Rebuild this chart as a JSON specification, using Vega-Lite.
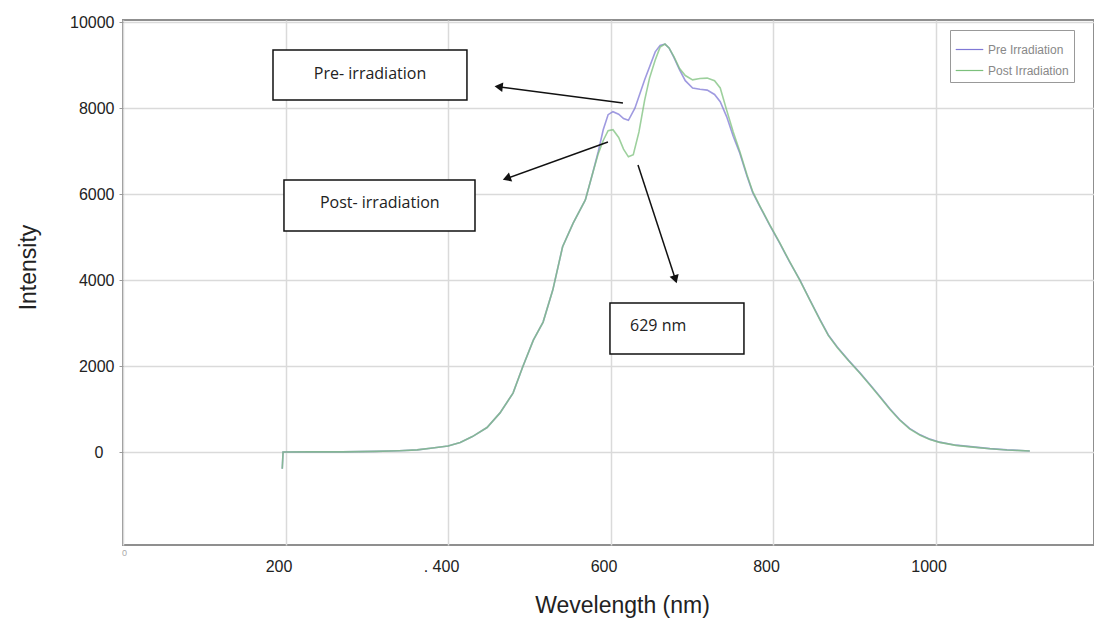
{
  "$schema": "https://vega.github.io/schema/vega-lite/v6.json",
  "autosize": {"type": "none"},
  "width": 971,
  "height": 525,
  "padding": {"left": 123, "top": 20, "right": 0, "bottom": 74},
  "background": "white",
  "config": {
    "view": {"stroke": "#8f8f8f", "strokeWidth": 2},
    "font": "Liberation Sans"
  },
  "datasets": {
    "spectrum": [
      {"wavelength": 196, "intensity": -380, "series": "Pre Irradiation"},
      {"wavelength": 197, "intensity": 10, "series": "Pre Irradiation"},
      {"wavelength": 230, "intensity": 15, "series": "Pre Irradiation"},
      {"wavelength": 270, "intensity": 15, "series": "Pre Irradiation"},
      {"wavelength": 310, "intensity": 25, "series": "Pre Irradiation"},
      {"wavelength": 340, "intensity": 40, "series": "Pre Irradiation"},
      {"wavelength": 362, "intensity": 60, "series": "Pre Irradiation"},
      {"wavelength": 381, "intensity": 105, "series": "Pre Irradiation"},
      {"wavelength": 400, "intensity": 150, "series": "Pre Irradiation"},
      {"wavelength": 415, "intensity": 230, "series": "Pre Irradiation"},
      {"wavelength": 430, "intensity": 370, "series": "Pre Irradiation"},
      {"wavelength": 448, "intensity": 580, "series": "Pre Irradiation"},
      {"wavelength": 464, "intensity": 920, "series": "Pre Irradiation"},
      {"wavelength": 480, "intensity": 1380, "series": "Pre Irradiation"},
      {"wavelength": 492, "intensity": 1990, "series": "Pre Irradiation"},
      {"wavelength": 505, "intensity": 2610, "series": "Pre Irradiation"},
      {"wavelength": 517, "intensity": 3030, "series": "Pre Irradiation"},
      {"wavelength": 529, "intensity": 3780, "series": "Pre Irradiation"},
      {"wavelength": 541, "intensity": 4780, "series": "Pre Irradiation"},
      {"wavelength": 554, "intensity": 5330, "series": "Pre Irradiation"},
      {"wavelength": 569, "intensity": 5870, "series": "Pre Irradiation"},
      {"wavelength": 578, "intensity": 6490, "series": "Pre Irradiation"},
      {"wavelength": 585, "intensity": 7000, "series": "Pre Irradiation"},
      {"wavelength": 591, "intensity": 7500, "series": "Pre Irradiation"},
      {"wavelength": 597, "intensity": 7850, "series": "Pre Irradiation"},
      {"wavelength": 603, "intensity": 7920, "series": "Pre Irradiation"},
      {"wavelength": 610, "intensity": 7860, "series": "Pre Irradiation"},
      {"wavelength": 616, "intensity": 7760, "series": "Pre Irradiation"},
      {"wavelength": 622, "intensity": 7720, "series": "Pre Irradiation"},
      {"wavelength": 630, "intensity": 8000, "series": "Pre Irradiation"},
      {"wavelength": 642, "intensity": 8660, "series": "Pre Irradiation"},
      {"wavelength": 655, "intensity": 9310, "series": "Pre Irradiation"},
      {"wavelength": 661, "intensity": 9460, "series": "Pre Irradiation"},
      {"wavelength": 667, "intensity": 9490, "series": "Pre Irradiation"},
      {"wavelength": 672, "intensity": 9400, "series": "Pre Irradiation"},
      {"wavelength": 678, "intensity": 9180, "series": "Pre Irradiation"},
      {"wavelength": 685, "intensity": 8890, "series": "Pre Irradiation"},
      {"wavelength": 692, "intensity": 8640, "series": "Pre Irradiation"},
      {"wavelength": 701, "intensity": 8470, "series": "Pre Irradiation"},
      {"wavelength": 710, "intensity": 8440, "series": "Pre Irradiation"},
      {"wavelength": 719, "intensity": 8420, "series": "Pre Irradiation"},
      {"wavelength": 728, "intensity": 8320, "series": "Pre Irradiation"},
      {"wavelength": 735, "intensity": 8150, "series": "Pre Irradiation"},
      {"wavelength": 743, "intensity": 7800, "series": "Pre Irradiation"},
      {"wavelength": 751, "intensity": 7350, "series": "Pre Irradiation"},
      {"wavelength": 759, "intensity": 6960, "series": "Pre Irradiation"},
      {"wavelength": 768, "intensity": 6420, "series": "Pre Irradiation"},
      {"wavelength": 775, "intensity": 6040, "series": "Pre Irradiation"},
      {"wavelength": 784, "intensity": 5710, "series": "Pre Irradiation"},
      {"wavelength": 796, "intensity": 5280, "series": "Pre Irradiation"},
      {"wavelength": 808, "intensity": 4870, "series": "Pre Irradiation"},
      {"wavelength": 820, "intensity": 4440, "series": "Pre Irradiation"},
      {"wavelength": 833, "intensity": 4010, "series": "Pre Irradiation"},
      {"wavelength": 845, "intensity": 3560, "series": "Pre Irradiation"},
      {"wavelength": 858, "intensity": 3080, "series": "Pre Irradiation"},
      {"wavelength": 868, "intensity": 2730, "series": "Pre Irradiation"},
      {"wavelength": 879, "intensity": 2450, "series": "Pre Irradiation"},
      {"wavelength": 893, "intensity": 2140, "series": "Pre Irradiation"},
      {"wavelength": 907, "intensity": 1850, "series": "Pre Irradiation"},
      {"wavelength": 920, "intensity": 1560, "series": "Pre Irradiation"},
      {"wavelength": 932, "intensity": 1290, "series": "Pre Irradiation"},
      {"wavelength": 944, "intensity": 1010, "series": "Pre Irradiation"},
      {"wavelength": 956, "intensity": 760, "series": "Pre Irradiation"},
      {"wavelength": 968, "intensity": 560, "series": "Pre Irradiation"},
      {"wavelength": 981, "intensity": 410, "series": "Pre Irradiation"},
      {"wavelength": 993, "intensity": 310, "series": "Pre Irradiation"},
      {"wavelength": 1005, "intensity": 240, "series": "Pre Irradiation"},
      {"wavelength": 1025, "intensity": 170, "series": "Pre Irradiation"},
      {"wavelength": 1046, "intensity": 130, "series": "Pre Irradiation"},
      {"wavelength": 1067, "intensity": 90, "series": "Pre Irradiation"},
      {"wavelength": 1088, "intensity": 60, "series": "Pre Irradiation"},
      {"wavelength": 1116, "intensity": 35, "series": "Pre Irradiation"},

      {"wavelength": 196, "intensity": -380, "series": "Post Irradiation"},
      {"wavelength": 197, "intensity": 10, "series": "Post Irradiation"},
      {"wavelength": 230, "intensity": 15, "series": "Post Irradiation"},
      {"wavelength": 270, "intensity": 15, "series": "Post Irradiation"},
      {"wavelength": 310, "intensity": 25, "series": "Post Irradiation"},
      {"wavelength": 340, "intensity": 40, "series": "Post Irradiation"},
      {"wavelength": 362, "intensity": 60, "series": "Post Irradiation"},
      {"wavelength": 381, "intensity": 105, "series": "Post Irradiation"},
      {"wavelength": 400, "intensity": 150, "series": "Post Irradiation"},
      {"wavelength": 415, "intensity": 230, "series": "Post Irradiation"},
      {"wavelength": 430, "intensity": 370, "series": "Post Irradiation"},
      {"wavelength": 448, "intensity": 580, "series": "Post Irradiation"},
      {"wavelength": 464, "intensity": 920, "series": "Post Irradiation"},
      {"wavelength": 480, "intensity": 1380, "series": "Post Irradiation"},
      {"wavelength": 492, "intensity": 1990, "series": "Post Irradiation"},
      {"wavelength": 505, "intensity": 2610, "series": "Post Irradiation"},
      {"wavelength": 517, "intensity": 3030, "series": "Post Irradiation"},
      {"wavelength": 529, "intensity": 3780, "series": "Post Irradiation"},
      {"wavelength": 541, "intensity": 4780, "series": "Post Irradiation"},
      {"wavelength": 554, "intensity": 5330, "series": "Post Irradiation"},
      {"wavelength": 569, "intensity": 5870, "series": "Post Irradiation"},
      {"wavelength": 578, "intensity": 6490, "series": "Post Irradiation"},
      {"wavelength": 585, "intensity": 6950, "series": "Post Irradiation"},
      {"wavelength": 591, "intensity": 7250, "series": "Post Irradiation"},
      {"wavelength": 597, "intensity": 7480, "series": "Post Irradiation"},
      {"wavelength": 603, "intensity": 7500, "series": "Post Irradiation"},
      {"wavelength": 610, "intensity": 7320, "series": "Post Irradiation"},
      {"wavelength": 616, "intensity": 7050, "series": "Post Irradiation"},
      {"wavelength": 622, "intensity": 6870, "series": "Post Irradiation"},
      {"wavelength": 628, "intensity": 6920, "series": "Post Irradiation"},
      {"wavelength": 635, "intensity": 7450, "series": "Post Irradiation"},
      {"wavelength": 642, "intensity": 8190, "series": "Post Irradiation"},
      {"wavelength": 648, "intensity": 8700, "series": "Post Irradiation"},
      {"wavelength": 655, "intensity": 9120, "series": "Post Irradiation"},
      {"wavelength": 661, "intensity": 9420, "series": "Post Irradiation"},
      {"wavelength": 667, "intensity": 9490, "series": "Post Irradiation"},
      {"wavelength": 672, "intensity": 9400, "series": "Post Irradiation"},
      {"wavelength": 678, "intensity": 9200, "series": "Post Irradiation"},
      {"wavelength": 685, "intensity": 8920, "series": "Post Irradiation"},
      {"wavelength": 692, "intensity": 8760, "series": "Post Irradiation"},
      {"wavelength": 701, "intensity": 8660, "series": "Post Irradiation"},
      {"wavelength": 710, "intensity": 8690, "series": "Post Irradiation"},
      {"wavelength": 719, "intensity": 8700, "series": "Post Irradiation"},
      {"wavelength": 728, "intensity": 8640, "series": "Post Irradiation"},
      {"wavelength": 735, "intensity": 8470, "series": "Post Irradiation"},
      {"wavelength": 743, "intensity": 7950, "series": "Post Irradiation"},
      {"wavelength": 751, "intensity": 7450, "series": "Post Irradiation"},
      {"wavelength": 759, "intensity": 7000, "series": "Post Irradiation"},
      {"wavelength": 768, "intensity": 6450, "series": "Post Irradiation"},
      {"wavelength": 775, "intensity": 6060, "series": "Post Irradiation"},
      {"wavelength": 784, "intensity": 5720, "series": "Post Irradiation"},
      {"wavelength": 796, "intensity": 5290, "series": "Post Irradiation"},
      {"wavelength": 808, "intensity": 4880, "series": "Post Irradiation"},
      {"wavelength": 820, "intensity": 4450, "series": "Post Irradiation"},
      {"wavelength": 833, "intensity": 4000, "series": "Post Irradiation"},
      {"wavelength": 845, "intensity": 3550, "series": "Post Irradiation"},
      {"wavelength": 858, "intensity": 3070, "series": "Post Irradiation"},
      {"wavelength": 868, "intensity": 2720, "series": "Post Irradiation"},
      {"wavelength": 879, "intensity": 2440, "series": "Post Irradiation"},
      {"wavelength": 893, "intensity": 2130, "series": "Post Irradiation"},
      {"wavelength": 907, "intensity": 1840, "series": "Post Irradiation"},
      {"wavelength": 920, "intensity": 1550, "series": "Post Irradiation"},
      {"wavelength": 932, "intensity": 1280, "series": "Post Irradiation"},
      {"wavelength": 944, "intensity": 1000, "series": "Post Irradiation"},
      {"wavelength": 956, "intensity": 750, "series": "Post Irradiation"},
      {"wavelength": 968, "intensity": 550, "series": "Post Irradiation"},
      {"wavelength": 981, "intensity": 400, "series": "Post Irradiation"},
      {"wavelength": 993, "intensity": 300, "series": "Post Irradiation"},
      {"wavelength": 1005, "intensity": 235, "series": "Post Irradiation"},
      {"wavelength": 1025, "intensity": 165, "series": "Post Irradiation"},
      {"wavelength": 1046, "intensity": 125, "series": "Post Irradiation"},
      {"wavelength": 1067, "intensity": 88, "series": "Post Irradiation"},
      {"wavelength": 1088, "intensity": 58, "series": "Post Irradiation"},
      {"wavelength": 1116, "intensity": 33, "series": "Post Irradiation"}
    ],
    "boxes": [
      {"label": "Pre- irradiation", "x1": 184.6, "x2": 423.3, "y1": 9354, "y2": 8192, "tx": 304, "ty": 8796},
      {"label": "Post- irradiation", "x1": 198.1, "x2": 433.2, "y1": 6333, "y2": 5148, "tx": 316, "ty": 5798}
    ],
    "boxes629": [
      {"label": "629 nm", "x1": 599.3, "x2": 764.2, "y1": 3474, "y2": 2289, "tx": 624, "ty": 2940}
    ],
    "arrows": [
      {"arrow": "pre", "x1": 615.3, "y1": 8122, "x2": 464, "y2": 8494},
      {"arrow": "post", "x1": 596.8, "y1": 7216, "x2": 473.8, "y2": 6379},
      {"arrow": "629", "x1": 633.8, "y1": 6681, "x2": 679.3, "y2": 4055}
    ]
  },
  "layer": [
    {
      "data": {"name": "spectrum"},
      "mark": {"type": "line", "strokeWidth": 1.6, "opacity": 0.75},
      "encoding": {
        "x": {
          "field": "wavelength", "type": "quantitative",
          "scale": {"domain": [0, 1195], "nice": false, "zero": false},
          "axis": {
            "title": "Wevelength (nm)",
            "titleFont": "Liberation Sans", "titleFontSize": 23, "titleFontWeight": "normal", "titleColor": "#222",
            "titleX": 499, "titleY": 60, "titleBaseline": "middle", "titleAlign": "center",
            "values": [0, 200, 400, 600, 800, 1000],
            "format": "d",
            "labelExpr": "datum.value == 400 ? '. 400' : datum.label",
            "labelFont": "Liberation Sans",
            "labelFontSize": {"condition": {"test": "datum.value == 0", "value": 9}, "value": 16},
            "labelColor": {"condition": {"test": "datum.value == 0", "value": "#aaaaaa"}, "value": "#222222"},
            "labelPadding": {"condition": {"test": "datum.value == 0", "value": 3}, "value": 13},
            "labelOffset": {"condition": {"test": "datum.value == 0", "value": 1}, "value": -7},
            "labelFlush": false,
            "tickSize": 0,
            "domain": false,
            "grid": true, "gridColor": "#dadada", "gridWidth": 1.5
          }
        },
        "y": {
          "field": "intensity", "type": "quantitative",
          "scale": {"domain": [-2150, 10050], "nice": false, "zero": false},
          "axis": {
            "title": "Intensity",
            "titleFont": "Liberation Sans", "titleFontSize": 23, "titleFontWeight": "normal", "titleColor": "#222",
            "titleX": -95, "titleY": 247, "titleBaseline": "middle", "titleAlign": "center",
            "values": [0, 2000, 4000, 6000, 8000, 10000],
            "format": "d",
            "labelFont": "Liberation Sans", "labelFontSize": 16, "labelColor": "#222222",
            "labelPadding": {"condition": {"test": "datum.value == 0", "value": 16}, "value": 5},
            "labelFlush": false,
            "tickSize": 4, "tickColor": "#999999",
            "domain": false,
            "grid": true, "gridColor": "#dadada", "gridWidth": 1.5
          }
        },
        "color": {
          "field": "series", "type": "nominal",
          "scale": {"domain": ["Pre Irradiation", "Post Irradiation"], "range": ["#7f78d6", "#7cc07c"]},
          "legend": {
            "title": null, "orient": "none", "legendX": 827, "legendY": 10,
            "strokeColor": "#999999", "fillColor": "white", "padding": 5,
            "labelFontSize": 12, "labelColor": "#888888", "labelFont": "Liberation Sans",
            "symbolType": "stroke", "symbolSize": 760, "symbolStrokeWidth": 1.2, "symbolOpacity": 1,
            "rowPadding": -10, "labelOffset": 4
          }
        },
        "order": {"field": "wavelength", "type": "quantitative"}
      }
    },
    {
      "data": {"name": "boxes"},
      "mark": {"type": "rect", "fill": "white", "stroke": "#111111", "strokeWidth": 1.5},
      "encoding": {
        "x": {"field": "x1", "type": "quantitative"},
        "x2": {"field": "x2"},
        "y": {"field": "y1", "type": "quantitative"},
        "y2": {"field": "y2"}
      }
    },
    {
      "data": {"name": "boxes"},
      "mark": {"type": "text", "font": "Open Sans", "fontSize": 16, "color": "#222222", "align": "center", "baseline": "middle"},
      "encoding": {
        "x": {"field": "tx", "type": "quantitative"},
        "y": {"field": "ty", "type": "quantitative"},
        "text": {"field": "label"}
      }
    },
    {
      "data": {"name": "boxes629"},
      "mark": {"type": "rect", "fill": "white", "stroke": "#111111", "strokeWidth": 1.5},
      "encoding": {
        "x": {"field": "x1", "type": "quantitative"},
        "x2": {"field": "x2"},
        "y": {"field": "y1", "type": "quantitative"},
        "y2": {"field": "y2"}
      }
    },
    {
      "data": {"name": "boxes629"},
      "mark": {"type": "text", "font": "Open Sans", "fontSize": 16, "color": "#222222", "align": "left", "baseline": "middle"},
      "encoding": {
        "x": {"field": "tx", "type": "quantitative"},
        "y": {"field": "ty", "type": "quantitative"},
        "text": {"field": "label"}
      }
    },
    {
      "data": {"name": "arrows"},
      "mark": {"type": "rule", "color": "#111111", "strokeWidth": 1.5},
      "encoding": {
        "x": {"field": "x1", "type": "quantitative"},
        "y": {"field": "y1", "type": "quantitative"},
        "x2": {"field": "x2"},
        "y2": {"field": "y2"}
      }
    },
    {
      "data": {"name": "arrows"},
      "transform": [{"filter": "datum.arrow == 'pre'"}],
      "mark": {"type": "point", "shape": "triangle", "filled": true, "color": "#111111", "opacity": 1, "size": 90, "angle": 277},
      "encoding": {
        "x": {"field": "x2", "type": "quantitative"},
        "y": {"field": "y2", "type": "quantitative"}
      }
    },
    {
      "data": {"name": "arrows"},
      "transform": [{"filter": "datum.arrow == 'post'"}],
      "mark": {"type": "point", "shape": "triangle", "filled": true, "color": "#111111", "opacity": 1, "size": 90, "angle": 250},
      "encoding": {
        "x": {"field": "x2", "type": "quantitative"},
        "y": {"field": "y2", "type": "quantitative"}
      }
    },
    {
      "data": {"name": "arrows"},
      "transform": [{"filter": "datum.arrow == '629'"}],
      "mark": {"type": "point", "shape": "triangle", "filled": true, "color": "#111111", "opacity": 1, "size": 90, "angle": 162},
      "encoding": {
        "x": {"field": "x2", "type": "quantitative"},
        "y": {"field": "y2", "type": "quantitative"}
      }
    }
  ]
}
